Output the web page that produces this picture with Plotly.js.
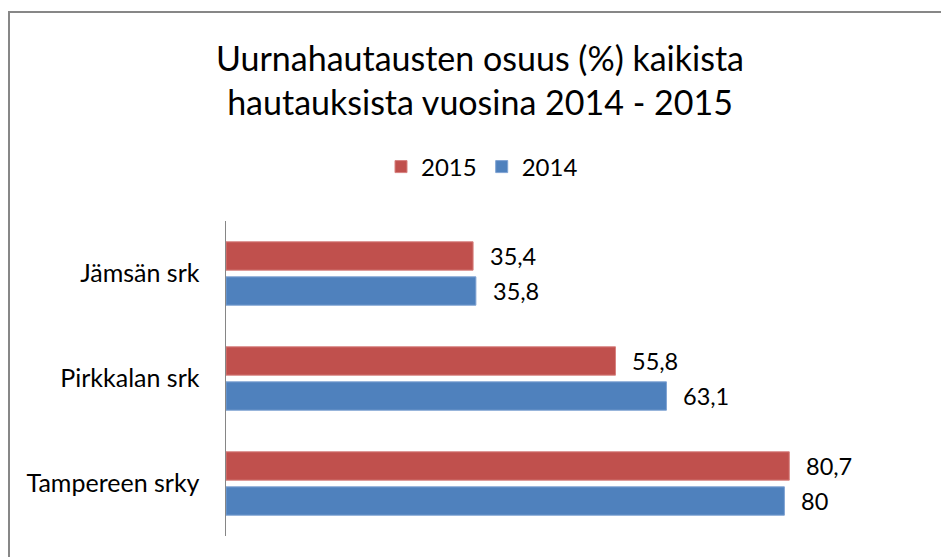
<!DOCTYPE html>
<html>
<head>
<meta charset="utf-8">
<script src="https://cdn.plot.ly/plotly-3.0.1.min.js"></script>
<style>
html,body{margin:0;padding:0;overflow:hidden;background:#fff;}
#chart{width:941px;height:557px;}
</style>
</head>
<body>
<div id="chart"></div>
<script>
var categories = ["Jämsän srk", "Pirkkalan srk", "Tampereen srky"];
var values2015 = [35.4, 55.8, 80.7];
var values2014 = [35.8, 63.1, 80];
var seriesNames = ["2015", "2014"];
var seriesColors = ["#C0504D", "#4F81BD"];

var FONT = "Lato, 'DejaVu Sans', sans-serif";
function fmt(v){ return String(v).replace(".", ","); }

var traces = [
  {type:"bar", orientation:"h", name:seriesNames[0], y:categories, x:values2015,
   marker:{color:seriesColors[0], line:{color:"#D7817F", width:1}}, hoverinfo:"skip"},
  {type:"bar", orientation:"h", name:seriesNames[1], y:categories, x:values2014,
   marker:{color:seriesColors[1], line:{color:"#7FA3D3", width:1}}, hoverinfo:"skip"}
];

var annotations = [];
categories.forEach(function(c, i){
  annotations.push({x:values2015[i], y:c, xref:"x", yref:"y", text:fmt(values2015[i]),
    showarrow:false, xanchor:"left", yanchor:"middle", xshift:15, yshift:17.5,
    font:{family:FONT, size:23.5, color:"#000"}});
  annotations.push({x:values2014[i], y:c, xref:"x", yref:"y", text:fmt(values2014[i]),
    showarrow:false, xanchor:"left", yanchor:"middle", xshift:15, yshift:-17.5,
    font:{family:FONT, size:23.5, color:"#000"}});
});

var L = 226, R = 17, T = 221, B = 21;
var pw = 941 - L - R, ph = 557 - T - B;

var layout = {
  width:941, height:557,
  margin:{l:L, r:R, t:T, b:B, pad:0},
  paper_bgcolor:"#fff", plot_bgcolor:"#fff",
  title:{text:"Uurnahautausten osuus (%) kaikista<br>hautauksista vuosina 2014 - 2015",
    font:{family:FONT, size:34, color:"#000"},
    xref:"container", x:480/941, xanchor:"center",
    yref:"container", y:1-71/557, yanchor:"middle"},
  showlegend:true,
  legend:{orientation:"h", xref:"container", yref:"container",
    x:482/941, xanchor:"center", y:1-167/557, yanchor:"middle",
    font:{family:FONT, size:24, color:"#000"}, traceorder:"normal",
    itemwidth:30, bgcolor:"rgba(0,0,0,0)"},
  barmode:"group", bargap:0.333, bargroupgap:0.19,
  xaxis:{range:[0,100], visible:false, fixedrange:true},
  yaxis:{type:"category", autorange:"reversed", showline:true, linecolor:"#868686", linewidth:1.5,
    showgrid:false, zeroline:false, ticks:"", ticklabelstandoff:20,
    tickfont:{family:FONT, size:25, color:"#000"}, fixedrange:true},
  annotations:annotations,
  shapes:[{type:"rect", xref:"paper", yref:"paper",
    x0:(9 - L)/pw, x1:(960 - L)/pw, y0:(557 - B - 600)/ph, y1:(557 - B - 12)/ph,
    line:{color:"#878787", width:2}, fillcolor:"rgba(0,0,0,0)", layer:"below"}]
};

Plotly.newPlot("chart", traces, layout, {displayModeBar:false, staticPlot:true});
</script>
</body>
</html>
